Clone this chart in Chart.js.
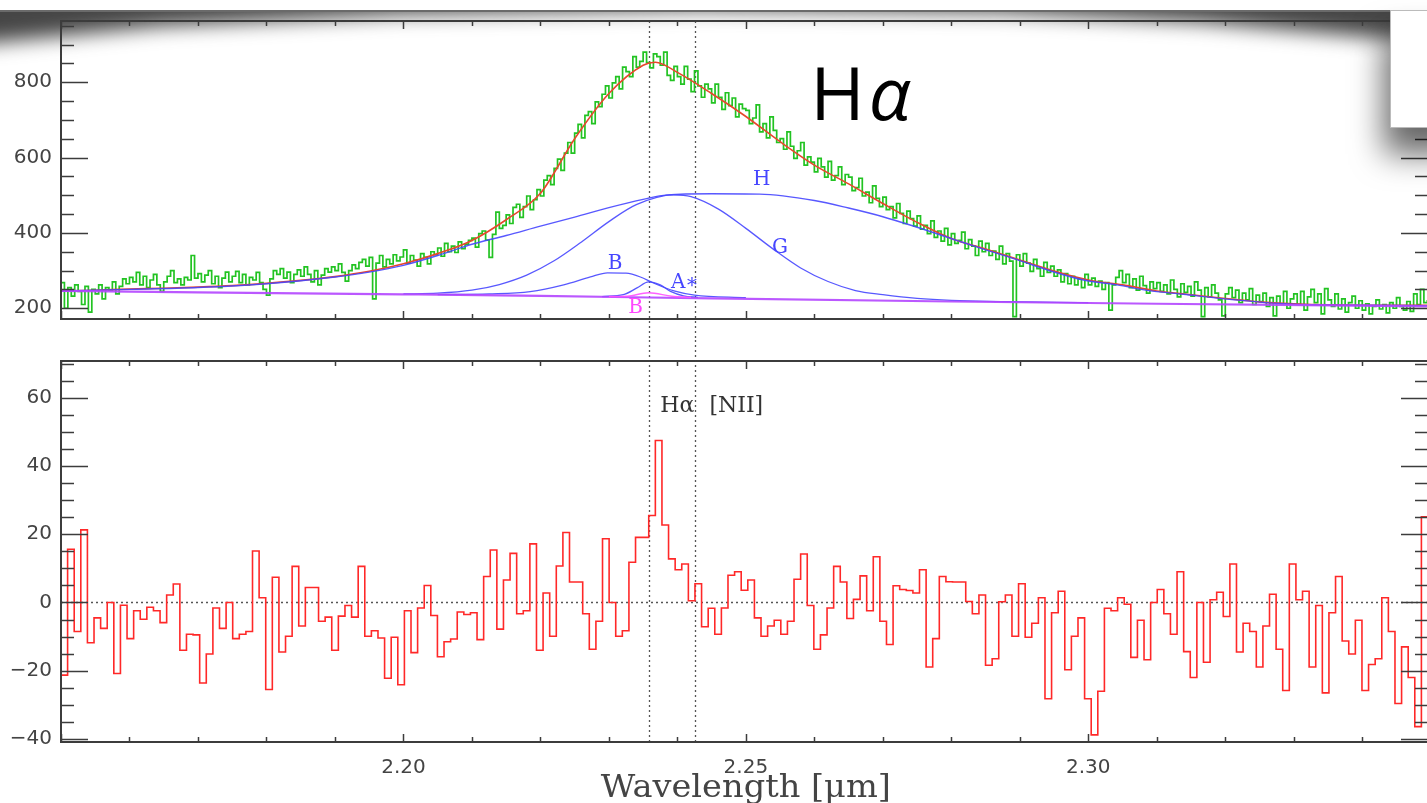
<!DOCTYPE html>
<html>
<head>
<meta charset="utf-8">
<script src="https://cdn.jsdelivr.net/npm/chart.js@4.4.1/dist/chart.umd.min.js"></script>
<style>
  html, body { margin: 0; padding: 0; background: #fff; overflow: hidden; }
  #page { position: relative; width: 1427px; height: 803px; overflow: hidden; background: #fff; }
  .box { position: absolute; left: 0; width: 1430px; }
  #topBox { top: 0; height: 340px; }
  #botBox { top: 340px; height: 463px; }
  #shade { position: absolute; left: 0; top: 0; pointer-events: none; }
</style>
</head>
<body>
<div id="page">
  <div class="box" id="topBox"><canvas id="chartTop"></canvas></div>
  <div class="box" id="botBox"><canvas id="chartBot"></canvas></div>
  <canvas id="shade" width="1427" height="220"></canvas>
</div>
<script>
// axis ranges and tick labels
const xMin = 2.15, xMax = 2.3496;
const topMin = 171.5, topMax = 962.4;
const botMin = -40.9, botMax = 70.8;
const xTicks = [2.20, 2.25, 2.30];
const topTicks = [200, 400, 600, 800];
const botTicks = [-40, -20, 0, 20, 40, 60];
const lineWl = [2.2359, 2.2426]; // Halpha and [NII] markers

// observed spectrum, 0.0005 um bins starting at 2.150
const greenStart = 2.15, greenStep = 0.0005;
const greenFlux = [
  268, 200, 255, 232, 262, 245, 210, 258, 190, 250,
  238, 262, 225, 255, 248, 270, 238, 258, 278, 265,
  282, 270, 295, 262, 285, 255, 275, 290, 262, 245,
  270, 285, 300, 268, 278, 262, 282, 275, 340, 280,
  292, 270, 288, 300, 265, 285, 255, 280, 296, 270,
  285, 298, 268, 290, 262, 282, 275, 295, 268, 250,
  235, 278, 300, 290, 305, 280, 296, 268, 290, 302,
  285, 310, 290, 270, 300, 262, 288, 305, 296, 310,
  300, 318, 295, 272, 300, 315, 305, 322, 330, 312,
  335, 225, 320, 340, 310, 330, 318, 342, 326, 336,
  355, 320, 340, 328, 312, 345, 335, 318, 350, 342,
  360, 338, 372, 350, 365, 348, 376, 358, 370, 380,
  386, 362, 398, 405, 381, 335, 396, 455, 412, 420,
  448, 425, 468, 476, 441, 470, 498, 462, 488, 515,
  498, 540, 552, 528, 571, 596, 566, 612, 640, 612,
  665, 688, 652, 712, 722, 690, 748, 735, 768, 790,
  758, 798, 815, 782, 840, 828, 815, 868, 840, 855,
  880, 852, 838, 875, 868, 845, 880, 818, 805, 842,
  815, 795, 842, 808, 775, 830, 790, 760, 795, 782,
  745, 795, 760, 728, 772, 738, 758, 708, 742, 730,
  725, 690, 705, 740, 668, 690, 652, 708, 672, 640,
  650, 622, 668, 630, 598, 618, 640, 580, 602, 588,
  562, 598, 575, 548, 590, 540, 552, 575, 528, 555,
  548, 512, 520, 545, 498, 508, 480, 525, 492, 470,
  495, 462, 470, 440, 478, 452, 425, 458, 438, 418,
  445, 410, 420, 398, 432, 388, 405, 378, 412, 368,
  398, 372, 380, 402, 358, 382, 365, 340, 378, 350,
  372, 340, 352, 330, 365, 318, 345, 325, 178, 342,
  312, 345, 320, 298, 330, 305, 285, 322, 295, 312,
  285, 302, 270, 292, 265, 285, 262, 278, 255, 290,
  262, 280, 258, 272, 250, 268, 195, 262, 282, 300,
  268, 290, 255, 278, 248, 285, 260, 240, 270, 252,
  268, 245, 262, 238, 275, 250, 230, 265, 242, 258,
  232, 270, 248, 178, 255, 230, 262, 240, 222, 180,
  238, 255, 228, 248, 215, 240, 222, 252, 210, 235,
  218, 240, 205, 228, 180, 232, 212, 245, 200, 225,
  238, 210, 245, 195, 230, 250, 215, 238, 185, 252,
  222, 205, 238, 198, 225, 190, 215, 232, 200, 220,
  195, 212, 185, 205, 222, 198, 210, 188, 215, 200,
  228, 205, 195, 218, 192, 238, 210, 250, 215, 222
];

// total fit
const fitWl = [2.150, 2.155, 2.160, 2.165, 2.170, 2.175, 2.180, 2.185, 2.190, 2.195, 2.200, 2.205, 2.210, 2.215, 2.220, 2.225, 2.230, 2.235, 2.2368, 2.240, 2.245, 2.250, 2.255, 2.260, 2.265, 2.270, 2.275, 2.280, 2.285, 2.290, 2.295, 2.300, 2.305, 2.310, 2.315, 2.320, 2.325, 2.330, 2.335, 2.340, 2.3496];
const fitFlux = [246, 248, 251, 253, 256, 260, 266, 274, 284, 298, 318, 345, 380, 435, 505, 650, 770, 845, 853, 826, 770, 709, 642, 580, 530, 478, 428, 385, 357, 328, 299, 275, 262, 246, 236, 226, 217, 212, 209, 208, 208];

// components
const hWl = [2.150, 2.160, 2.170, 2.180, 2.190, 2.195, 2.200, 2.205, 2.210, 2.215, 2.220, 2.225, 2.230, 2.235, 2.2385, 2.245, 2.252, 2.260, 2.265, 2.270, 2.275, 2.281, 2.2847, 2.2896, 2.2945, 2.2993, 2.3042, 2.3091, 2.3139, 2.3188, 2.3285, 2.3382, 2.3496];
const hFlux = [246, 250, 255, 265, 283, 296, 314, 340, 370, 393, 418, 442, 467, 489, 501, 504, 503, 486, 466, 443, 415, 379, 357, 329, 299, 275, 262, 246, 237, 227, 212, 208, 207];
const gWl = [2.200, 2.205, 2.210, 2.214, 2.218, 2.222, 2.226, 2.230, 2.234, 2.2395, 2.242, 2.246, 2.250, 2.254, 2.258, 2.262, 2.266, 2.270, 2.275, 2.280, 2.300];
const gFlux = [238, 240, 248, 263, 288, 326, 376, 430, 475, 501, 496, 463, 412, 357, 307, 271, 247, 236, 226, 221, 215];
const bWl = [2.205, 2.2125, 2.2185, 2.2234, 2.2273, 2.2298, 2.2325, 2.2346, 2.2365, 2.2395, 2.2425, 2.250];
const bFlux = [236, 238, 244, 262, 283, 294, 293, 283, 267, 246, 235, 228];
const aWl = [2.229, 2.2321, 2.2341, 2.2358, 2.2375, 2.239, 2.2409, 2.243];
const aFlux = [231, 236, 254, 270, 262, 245, 233, 229];
const mbWl = [2.230, 2.2327, 2.2358, 2.2392, 2.242];
const mbFlux = [231, 232, 241, 232, 229];
const contWl = [2.150, 2.170, 2.200, 2.220, 2.245, 2.280, 2.310, 2.3496];
const contFlux = [246, 242, 237, 233, 226, 218, 212, 205];

// residuals, equal bins across the plotted range
const residual = [
  -21.3, 15.6, -8.5, 21.3, -11.8, -4.5, -7.6, 0, -20.8, -0.8,
  -10.6, -2.4, -4.9, -1.4, -2.4, -5.9, 2.2, 5.4, -14, -9.3,
  -9.5, -23.6, -15.1, -1.6, -7.6, 0, -10.6, -9.3, -8.5, 15.1,
  1.4, -25.5, 7.4, -14.5, -9.9, 10.6, -6.9, 4.4, 4.4, -5.5,
  -4.3, -14, -4.0, -0.9, -4.3, 10.6, -9.9, -8.3, -10.4, -22.2,
  -10.2, -24.1, -2.4,
  -14.7, -1.6, 5.0, -3.8, -15.9, -11.5, -10.7, -2.8, -3.5, -3.0,
  -10.9, 7.6, 15.4, -7.8, 6.6, 14.4, -3.3, -2.4, 17.2, -14,
  2.8, -9.9, 10.7, 20.5, 6.0, 6.0, -3.3, -13.7, -5.5, 18.7,
  0, -9.9, -8.3, 11.8, 19.1, 19.1, 25.5, 47.5, 22.7, 12.8,
  9.6, 11.3, 0.5, 5.5, -7.1, -1.7, -9.3, -1.6, 8.0, 9.0,
  3.6, 6.6,
  -4.5, -9.9, -6.9, -5.2, -9.3, -5.5, 6.8, 14.2, -0.9, -13.7,
  -9.5, -1.6, 10.6, 6.0, -4.7, 0.9, 7.8, -2.4, 13.4, -5.5,
  -12.3, 4.9, 3.8, 3.5, 2.8, 9.6, -18.9, -10.6, 7.6, 6.1,
  6.0, 6.0, 0.3, -3.3, 2.2, -18.4, -16.5, 0.2, 2.2, -9.9,
  5.5, -10.2, -6.1, 1.4, -28.2, -3.0, 3.3, -19.7, -9.9, -4.5,
  -28.2, -38.8,
  -26, -1.7, -2.4, 1.4, -0.5, -16.1, -5.2, -16.8, 0, 3.8,
  -3.3, -9.3, 9.0, -14.4, -22.0, 0, -17.5, 0.8, 3.0, -4.1,
  11.3, -14.5, -6.1, -8.5, -18.9, -6.9, 2.4, -13.7, -25.8, 11.3,
  0.8, 3.3, -18.9, -0.9, -26.5, -3.0, 7.6, -11.3, -15.1, -5.2,
  -25.8, -18.2, -16.5, 1.4, -8.5, -29.6, -13, -22.0, -36.4, 25.1
];

const zip = (xs, ys) => xs.map((x, i) => ({ x: x, y: ys[i] }));

const greenPts = greenFlux.map((v, i) => ({ x: greenStart + i * greenStep, y: v }));
const resStep = (xMax - xMin) / residual.length;
const resPts = residual.map((v, i) => ({ x: xMin + i * resStep, y: v }));
resPts.push({ x: xMax, y: residual[residual.length - 1] });

const axisColor = "#3c3c3c";
const labelFont = { family: "DejaVu Sans", size: 20 };

function curve(pts, color, width, order) {
  return {
    data: pts,
    showLine: true,
    borderColor: color,
    borderWidth: width,
    pointRadius: 0,
    cubicInterpolationMode: "monotone",
    order: order,
  };
}

function framePlugin(yMinor, yMajor, yFrom, yTo) {
  return {
    id: "frame",
    afterDraw(chart) {
      const ctx = chart.ctx;
      const a = chart.chartArea;
      const x = chart.scales.x, y = chart.scales.y;
      ctx.save();
      ctx.strokeStyle = axisColor;
      ctx.lineWidth = 2;
      ctx.strokeRect(a.left, a.top, a.right - a.left, a.bottom - a.top);
      ctx.lineWidth = 1.5;
      ctx.beginPath();
      for (let v = yFrom; v <= yTo; v += yMinor) {
        const py = Math.round(y.getPixelForValue(v)) + 0.5;
        if (py < a.top || py > a.bottom) continue;
        const len = v % yMajor === 0 ? 27 : 13;
        ctx.moveTo(a.left, py); ctx.lineTo(a.left + len, py);
        ctx.moveTo(a.right, py); ctx.lineTo(a.right - len, py);
      }
      for (let k = 215; k <= 235; k++) {
        const px = Math.round(x.getPixelForValue(k / 100)) + 0.5;
        const len = k % 5 === 0 ? 8 : 5;
        ctx.moveTo(px, a.bottom); ctx.lineTo(px, a.bottom - len);
        ctx.moveTo(px, a.top); ctx.lineTo(px, a.top + len);
      }
      ctx.stroke();
      ctx.restore();
    },
  };
}

function markerPlugin(isTop) {
  return {
    id: "markers",
    beforeDatasetsDraw(chart) {
      const ctx = chart.ctx;
      const a = chart.chartArea;
      const x = chart.scales.x, y = chart.scales.y;
      ctx.save();
      ctx.strokeStyle = "#555";
      ctx.lineWidth = 1.3;
      ctx.setLineDash([2, 3]);
      ctx.beginPath();
      lineWl.forEach((w) => {
        const px = Math.round(x.getPixelForValue(w)) + 0.5;
        ctx.moveTo(px, isTop ? a.top : 0);
        ctx.lineTo(px, isTop ? chart.height : a.bottom);
      });
      if (!isTop) {
        const py = Math.round(y.getPixelForValue(0)) + 0.5;
        ctx.moveTo(a.left, py);
        ctx.lineTo(a.right, py);
      }
      ctx.stroke();
      ctx.restore();
    },
  };
}

const topLabels = {
  id: "topLabels",
  afterDatasetsDraw(chart) {
    const ctx = chart.ctx;
    const x = chart.scales.x, y = chart.scales.y;
    ctx.save();
    ctx.textAlign = "center";
    ctx.textBaseline = "middle";
    ctx.font = '20px "DejaVu Serif"';
    const items = [
      ["H", 2.2523, 541, "rgb(70,70,255)"],
      ["G", 2.2550, 360, "rgb(70,70,255)"],
      ["B", 2.2309, 318, "rgb(70,70,255)"],
      ["A\u2217", 2.2411, 268, "rgb(70,70,255)"],
      ["B", 2.2339, 201, "rgb(255,70,255)"],
    ];
    items.forEach((it) => {
      ctx.fillStyle = it[3];
      ctx.fillText(it[0], x.getPixelForValue(it[1]), y.getPixelForValue(it[2]));
    });
    // big title
    ctx.fillStyle = "#000";
    ctx.textAlign = "left";
    ctx.textBaseline = "alphabetic";
    const tx = x.getPixelForValue(2.2594), ty = y.getPixelForValue(699);
    ctx.font = '74px "Open Sans"';
    ctx.fillText("H", tx, ty);
    const hw = ctx.measureText("H").width;
    ctx.font = 'italic 74px "Open Sans"';
    ctx.fillText("\u03b1", tx + hw + 4, ty);
    ctx.restore();
  },
};

const botLabels = {
  id: "botLabels",
  afterDraw(chart) {
    const ctx = chart.ctx;
    const x = chart.scales.x, y = chart.scales.y;
    ctx.save();
    ctx.fillStyle = "#333";
    ctx.textAlign = "center";
    ctx.textBaseline = "middle";
    ctx.font = '22px "DejaVu Serif"';
    ctx.fillText("H\u03b1", x.getPixelForValue(2.2400), y.getPixelForValue(57.4));
    ctx.fillText("[NII]", x.getPixelForValue(2.2486), y.getPixelForValue(57.4));
    // axis title, partly cut by the page edge
    ctx.fillStyle = "#444";
    ctx.font = '32px "DejaVu Serif"';
    const t = "Wavelength [\u03bcm]";
    const w = ctx.measureText(t).width;
    const cx = x.getPixelForValue(2.25);
    ctx.translate(cx, 457);
    ctx.scale(290 / w, 1);
    ctx.textBaseline = "alphabetic";
    ctx.fillText(t, 0, 0);
    ctx.restore();
  },
};

const minusFmt = (v) => (v < 0 ? "\u2212" + Math.abs(v) : String(v));

new Chart(document.getElementById("chartTop").getContext("2d"), {
  type: "scatter",
  data: {
    datasets: [
      { data: greenPts, showLine: true, stepped: true, borderColor: "#22c322", borderWidth: 1.7, pointRadius: 0, order: 6 },
      curve(zip(fitWl, fitFlux), "rgb(232,70,44)", 1.6, 5),
      curve(zip(gWl, gFlux), "rgba(70,70,255,0.9)", 1.3, 4),
      curve(zip(bWl, bFlux), "rgba(70,70,255,0.9)", 1.3, 4),
      curve(zip(aWl, aFlux), "rgba(70,70,255,0.9)", 1.3, 4),
      curve(zip(hWl, hFlux), "rgba(70,70,255,0.9)", 1.4, 3),
      curve(zip(contWl, contFlux), "rgba(180,70,255,0.9)", 2.2, 2),
      curve(zip(mbWl, mbFlux), "rgba(255,80,255,0.9)", 1.5, 1),
    ],
  },
  options: {
    responsive: true,
    maintainAspectRatio: false,
    animation: false,
    layout: { padding: { top: 12, bottom: 9, left: 0, right: 2 } },
    plugins: { legend: { display: false }, tooltip: { enabled: false } },
    scales: {
      x: { type: "linear", min: xMin, max: xMax, display: false },
      y: {
        min: topMin,
        max: topMax,
        afterFit(s) { s.width = 61; },
        afterBuildTicks(s) { s.ticks = topTicks.map((v) => ({ value: v })); },
        grid: { display: false, drawTicks: false },
        border: { display: false },
        ticks: { padding: 9, font: labelFont, color: "#444" },
      },
    },
  },
  plugins: [markerPlugin(true), framePlugin(50, 200, 150, 950), topLabels],
});

new Chart(document.getElementById("chartBot").getContext("2d"), {
  type: "scatter",
  data: {
    datasets: [
      { data: resPts, showLine: true, stepped: true, borderColor: "rgb(255,40,40)", borderWidth: 1.6, pointRadius: 0 },
    ],
  },
  options: {
    responsive: true,
    maintainAspectRatio: false,
    animation: false,
    layout: { padding: { top: 12, bottom: 0, left: 0, right: 2 } },
    plugins: { legend: { display: false }, tooltip: { enabled: false } },
    scales: {
      x: {
        type: "linear",
        min: xMin,
        max: xMax,
        afterFit(s) { s.height = 61; },
        afterBuildTicks(s) { s.ticks = xTicks.map((v) => ({ value: v })); },
        grid: { display: false, drawTicks: false },
        border: { display: false },
        ticks: { padding: 14, font: labelFont, color: "#444", maxRotation: 0, autoSkip: false, callback: (v) => v.toFixed(2) },
      },
      y: {
        min: botMin,
        max: botMax,
        afterFit(s) { s.width = 61; },
        afterBuildTicks(s) { s.ticks = botTicks.map((v) => ({ value: v })); },
        grid: { display: false, drawTicks: false },
        border: { display: false },
        ticks: { padding: 9, font: labelFont, color: "#444", callback: minusFmt },
      },
    },
  },
  plugins: [markerPlugin(false), framePlugin(5, 20, -40, 70), botLabels],
});

// shadow band and the box at the top right of the page
(function () {
  const sc = document.getElementById("shade").getContext("2d");
  sc.save();
  sc.filter = "blur(10px)";
  sc.fillStyle = "rgba(60,60,60,0.95)";
  const edge = [[1470, 46], [1380, 38], [1200, 22], [1000, 12], [700, 9], [400, 14], [160, 26], [0, 42], [-40, 46]];
  sc.beginPath();
  sc.moveTo(-40, -40);
  sc.lineTo(1470, -40);
  edge.forEach((p) => sc.lineTo(p[0], p[1]));
  sc.closePath();
  sc.fill();
  sc.restore();
  sc.fillStyle = "#fff";
  sc.fillRect(0, 0, 1427, 10);
  sc.fillStyle = "#6a6a6a";
  sc.fillRect(0, 10, 1427, 2);
  sc.save();
  sc.shadowColor = "rgba(0,0,0,0.6)";
  sc.shadowBlur = 32;
  sc.shadowOffsetY = 26;
  sc.shadowOffsetX = -6;
  sc.fillStyle = "#fff";
  sc.fillRect(1390, 10, 80, 118);
  sc.restore();
  sc.strokeStyle = "#bbb";
  sc.lineWidth = 1;
  sc.strokeRect(1390.5, 10.5, 80, 117);
})();
</script>
</body>
</html>
